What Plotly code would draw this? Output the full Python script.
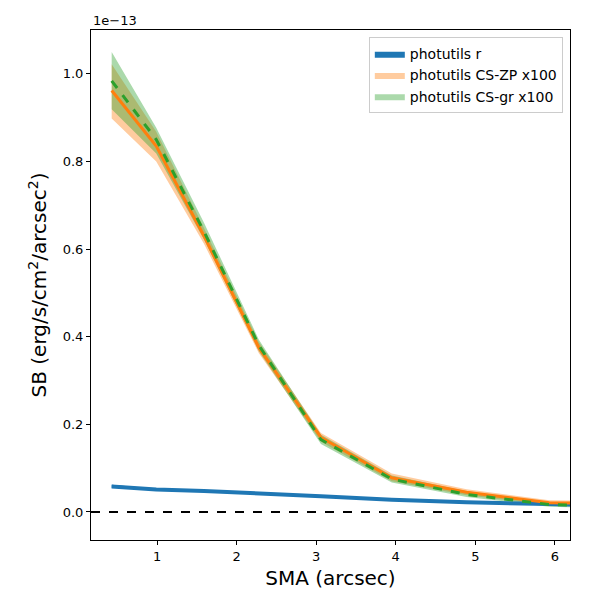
import plotly.graph_objects as go

# =========================
# DATA (SB in units of 1e-13 erg/s/cm^2/arcsec^2)
# =========================
sma = [0.43, 0.99, 1.59, 2.28, 3.06, 3.95, 4.89, 5.93, 7.05]

r_sb = [0.058, 0.051, 0.048, 0.043, 0.036, 0.028, 0.022, 0.018, 0.015]
r_lo = [0.055, 0.049, 0.0465, 0.0415, 0.035, 0.027, 0.021, 0.017, 0.014]
r_hi = [0.062, 0.053, 0.0495, 0.0445, 0.037, 0.029, 0.023, 0.019, 0.016]

zp_sb = [0.962, 0.835, 0.630, 0.375, 0.170, 0.078, 0.045, 0.021, 0.018]
zp_lo = [0.898, 0.800, 0.612, 0.362, 0.160, 0.070, 0.038, 0.015, 0.013]
zp_hi = [1.022, 0.868, 0.648, 0.388, 0.180, 0.088, 0.052, 0.027, 0.024]

gr_sb = [0.984, 0.850, 0.640, 0.380, 0.165, 0.075, 0.040, 0.017, 0.010]
gr_lo = [0.919, 0.818, 0.622, 0.367, 0.155, 0.067, 0.034, 0.012, 0.006]
gr_hi = [1.050, 0.877, 0.660, 0.393, 0.176, 0.083, 0.047, 0.023, 0.016]

BLUE = "#1f77b4"
ORANGE = "#ff7f0e"
GREEN = "#2ca02c"


def band(lo, hi, color, name):
    return go.Scatter(
        x=sma + sma[::-1],
        y=hi + lo[::-1],
        fill="toself",
        fillcolor=color,
        line=dict(width=0),
        mode="lines",
        name=name,
        hoverinfo="skip",
    )


fig = go.Figure()

# bands
fig.add_trace(band(r_lo, r_hi, BLUE, "photutils r"))
fig.add_trace(band(zp_lo, zp_hi, "rgba(255,127,14,0.4)", "photutils CS-ZP x100"))
fig.add_trace(band(gr_lo, gr_hi, "rgba(44,160,44,0.4)", "photutils CS-gr x100"))

# lines
fig.add_trace(go.Scatter(x=sma, y=r_sb, mode="lines",
                         line=dict(color=BLUE, width=4), showlegend=False))
fig.add_trace(go.Scatter(x=sma, y=zp_sb, mode="lines",
                         line=dict(color=ORANGE, width=3), showlegend=False))
fig.add_trace(go.Scatter(x=sma, y=gr_sb, mode="lines",
                         line=dict(color=GREEN, width=3, dash="dash"), showlegend=False))

# zero line
fig.add_shape(type="line", xref="paper", x0=0, x1=1, y0=0, y1=0,
              line=dict(color="black", width=2, dash="dash"))

axis_style = dict(
    showline=True, linecolor="black", linewidth=1, mirror=True,
    ticks="outside", ticklen=4, tickcolor="black",
    showgrid=False, zeroline=False, automargin=False,
    tickfont=dict(size=13, color="black"),
)

fig.update_xaxes(
    range=[0.17, 6.19], tickvals=[1, 2, 3, 4, 5, 6],
    title=dict(text="SMA (arcsec)", font=dict(size=20, color="black"), standoff=8),
    **axis_style,
)
fig.update_yaxes(
    range=[-0.064, 1.10], tickvals=[0, 0.2, 0.4, 0.6, 0.8, 1.0], tickformat=".1f",
    title=dict(text="SB (erg/s/cm<sup>2</sup>/arcsec<sup>2</sup>)",
               font=dict(size=20, color="black"), standoff=10),
    **axis_style,
)

fig.add_annotation(text="1e\u221213", xref="paper", yref="paper", x=0, y=1,
                   xanchor="left", yanchor="bottom", showarrow=False,
                   font=dict(size=13, color="black"))

# the page body adds an 8px offset, so margins are shifted to compensate
fig.update_layout(
    width=600, height=600,
    margin=dict(l=83, r=38, t=22, b=68),
    paper_bgcolor="white", plot_bgcolor="white",
    font=dict(family="DejaVu Sans", color="black"),
    legend=dict(x=0.985, y=0.986, xanchor="right", yanchor="top",
                bordercolor="#cccccc", borderwidth=1, bgcolor="rgba(255,255,255,0.8)",
                font=dict(size=14)),
)

fig.write_html("out.html")
